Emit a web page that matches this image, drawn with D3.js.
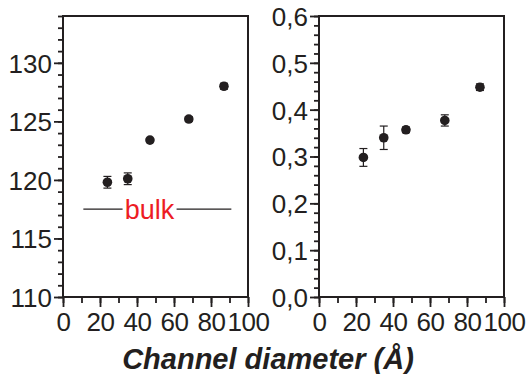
<!DOCTYPE html>
<html>
<head>
<meta charset="utf-8">
<script src="https://cdn.jsdelivr.net/npm/d3@7"></script>
<style>
  body { margin: 0; background: #fff; }
  svg text { font-family: "Liberation Sans", Arial, sans-serif; fill: #231f20; }
</style>
</head>
<body>
<div id="chart"></div>
<script>
// channel diameters (Å), shared by both panels
const diameters = [24, 35, 47, 68, 87];
// left panel
const leftValues = [119.8, 120.1, 123.4, 125.2, 128.0];
const leftErrors = [0.5, 0.5, 0.15, 0.2, 0.25];
const bulkValue = 117.5;
const bulkRange = [11, 91];
// right panel
const rightValues = [0.298, 0.340, 0.357, 0.377, 0.448];
const rightErrors = [0.019, 0.025, 0.006, 0.012, 0.007];

const xTicks = [0, 20, 40, 60, 80, 100];
const leftTicks = [110, 115, 120, 125, 130];
const rightTicks = [0, 0.1, 0.2, 0.3, 0.4, 0.5, 0.6];

const width = 532, height = 374;
const ink = "#231f20";

const svg = d3.select("#chart").append("svg")
  .attr("width", width)
  .attr("height", height);

function panel(opts) {
  const x = d3.scaleLinear().domain([0, 100]).range([opts.left, opts.right]);
  const y = d3.scaleLinear().domain(opts.yDomain).range([297, 16]);
  const g = svg.append("g");

  // minor ticks
  g.append("g")
    .attr("transform", `translate(0,${y.range()[0]})`)
    .call(d3.axisBottom(x).tickValues(d3.range(0, 101, 10)).tickSize(6).tickFormat(""))
    .call(a => a.select(".domain").remove());
  g.append("g")
    .attr("transform", `translate(${opts.left},0)`)
    .call(d3.axisLeft(y).tickValues(opts.minor).tickSize(5).tickFormat(""))
    .call(a => a.select(".domain").remove());

  // major ticks + labels
  const xa = g.append("g")
    .attr("transform", `translate(0,${y.range()[0]})`)
    .call(d3.axisBottom(x).tickValues(xTicks).tickSize(10).tickPadding(6).tickFormat(d3.format("d")));
  xa.select(".domain").remove();
  xa.selectAll("text").attr("font-size", 26).attr("letter-spacing", -0.5).style("fill", ink);

  const ya = g.append("g")
    .attr("transform", `translate(${opts.left},0)`)
    .call(d3.axisLeft(y).tickValues(opts.yTicks).tickSize(9).tickPadding(2).tickFormat(opts.fmt));
  ya.select(".domain").remove();
  ya.selectAll("text").attr("font-size", 26).attr("dy", "0.36em").style("fill", ink);

  g.selectAll(".tick line").attr("stroke", ink).attr("stroke-width", 1.8);

  // frame
  g.append("rect")
    .attr("x", opts.left).attr("y", 16)
    .attr("width", opts.right - opts.left).attr("height", 281)
    .attr("fill", "none").attr("stroke", ink).attr("stroke-width", 2);

  const pts = diameters.map((d, i) => ({ d, v: opts.values[i], e: opts.errors[i] }));

  // error bars
  const eb = g.selectAll(".err").data(pts).join("g").attr("class", "err")
    .attr("stroke", ink).attr("stroke-width", 1.2);
  eb.append("line")
    .attr("x1", p => x(p.d)).attr("x2", p => x(p.d))
    .attr("y1", p => y(p.v - p.e)).attr("y2", p => y(p.v + p.e));
  eb.append("line")
    .attr("x1", p => x(p.d) - 4).attr("x2", p => x(p.d) + 4)
    .attr("y1", p => y(p.v - p.e)).attr("y2", p => y(p.v - p.e));
  eb.append("line")
    .attr("x1", p => x(p.d) - 4).attr("x2", p => x(p.d) + 4)
    .attr("y1", p => y(p.v + p.e)).attr("y2", p => y(p.v + p.e));

  g.selectAll(".pt").data(pts).join("circle").attr("class", "pt")
    .attr("cx", p => x(p.d)).attr("cy", p => y(p.v))
    .attr("r", 4.8).attr("fill", ink);

  return { x, y, g };
}

const L = panel({
  left: 63, right: 248, yDomain: [110, 134],
  yTicks: leftTicks, minor: d3.range(110, 135, 1),
  fmt: d3.format("d"), values: leftValues, errors: leftErrors
});

panel({
  left: 319, right: 504, yDomain: [0, 0.6],
  yTicks: rightTicks, minor: d3.range(0, 0.61, 0.02),
  fmt: d => d3.format(".1f")(d).replace(".", ","),
  values: rightValues, errors: rightErrors
});

// bulk reference line
L.g.append("line")
  .attr("x1", L.x(bulkRange[0])).attr("x2", L.x(bulkRange[1]))
  .attr("y1", L.y(bulkValue)).attr("y2", L.y(bulkValue))
  .attr("stroke", ink).attr("stroke-width", 1.3);
L.g.append("rect")
  .attr("x", L.x(46.8) - 27).attr("y", L.y(bulkValue) - 2)
  .attr("width", 54).attr("height", 4).attr("fill", "#fff");
L.g.append("text")
  .attr("x", L.x(46.8)).attr("y", L.y(bulkValue))
  .attr("dy", "0.36em")
  .attr("text-anchor", "middle")
  .attr("font-size", 27)
  .style("fill", "#ed1c24")
  .text("bulk");

svg.append("text")
  .attr("x", 268).attr("y", 369)
  .attr("text-anchor", "middle")
  .attr("font-size", 29)
  .attr("font-weight", "bold")
  .attr("font-style", "italic")
  .text("Channel diameter (Å)");
</script>
</body>
</html>
